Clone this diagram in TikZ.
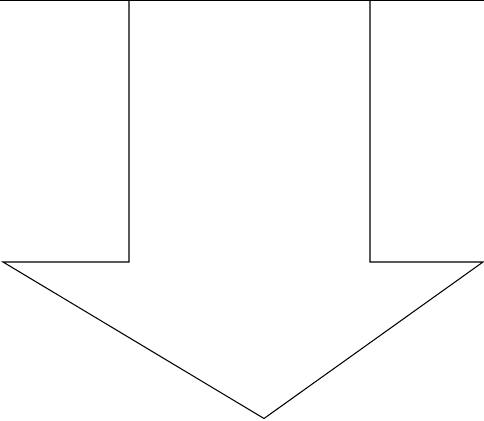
\documentclass[tikz,border=0pt]{standalone}
\usepackage{tikz}
\tikzset{
  arrowline/.style={draw=black, line width=0.6pt, line join=miter},
}
\begin{document}
\begin{tikzpicture}[x=0.02cm, y=-0.02cm]
    %% frame of the page
    \useasboundingbox (0,0) rectangle (484,420);
    %% top edge
    \draw[arrowline] (0,0.5) -- (484,0.5);
    %% big down arrow
    \draw[arrowline] (129,0.5) -- (129,262) -- (3,262) -- (264,418.5)
      -- (483,262) -- (370,262) -- (370,0.5);
\end{tikzpicture}
\end{document}
